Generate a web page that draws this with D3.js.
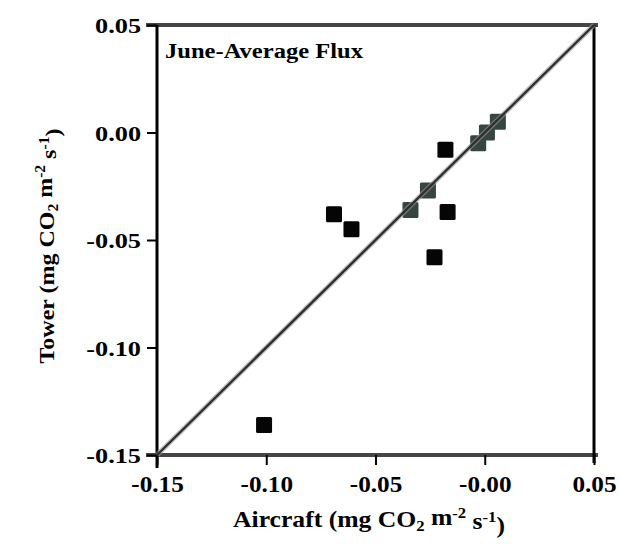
<!DOCTYPE html>
<html>
<head>
<meta charset="utf-8">
<script src="https://cdn.jsdelivr.net/npm/d3@7"></script>
<style>
  html, body { margin: 0; padding: 0; background: #ffffff; }
  svg { display: block; }
</style>
</head>
<body>
<svg id="chart" width="619" height="544"></svg>
<script>
// ---- data ----
const xTicks = [-0.15, -0.10, -0.05, 0.00, 0.05];
const xTickLabels = ["-0.15", "-0.10", "-0.05", "-0.00", "0.05"];
const yTicks = [-0.15, -0.10, -0.05, 0.00, 0.05];
const yTickLabels = ["-0.15", "-0.10", "-0.05", "0.00", "0.05"];

// points lying on the 1:1 line (drawn dark grey-green)
const aircraftOnLine = [0.006, 0.001, -0.003, -0.026, -0.034];
const towerOnLine    = [0.005, 0.000, -0.005, -0.027, -0.036];
// points off the line (drawn black)
const aircraftOff = [-0.069, -0.061, -0.017, -0.023, -0.018, -0.101];
const towerOff    = [-0.038, -0.045, -0.037, -0.058, -0.008, -0.136];

const oneToOne = [-0.15, 0.05];
const panelTitle = "June-Average Flux";

// ---- layout ----
const svg = d3.select("#chart");
const x = d3.scaleLinear().domain([-0.15, 0.05]).range([157, 594]);
const y = d3.scaleLinear().domain([-0.15, 0.05]).range([455, 25]);
const FONT = "'Liberation Serif', 'Times New Roman', serif";

function stretch(sel, factor) {
  sel.each(function () {
    const len = this.getComputedTextLength();
    d3.select(this).attr("textLength", len * factor).attr("lengthAdjust", "spacingAndGlyphs");
  });
}

// frame lines (top & bottom, grey, extending slightly past the axes)
const frameColor = "#454545";
[y.range()[1], y.range()[0]].forEach(yy => {
  svg.append("line")
    .attr("x1", x.range()[0] - 11).attr("x2", x.range()[1] + 4)
    .attr("y1", yy).attr("y2", yy)
    .attr("stroke", frameColor).attr("stroke-width", 4);
});
// right border (black)
svg.append("line")
  .attr("x1", x.range()[1]).attr("x2", x.range()[1])
  .attr("y1", y.range()[1]).attr("y2", y.range()[0] + 8)
  .attr("stroke", "#000").attr("stroke-width", 3);

// y axis
const yAxis = svg.append("g")
  .attr("transform", `translate(${x.range()[0]},0)`)
  .call(d3.axisLeft(y).tickValues(yTicks).tickFormat((d, i) => yTickLabels[i])
        .tickSize(10).tickSizeOuter(0).tickPadding(6));
yAxis.select(".domain").attr("stroke", "#000").attr("stroke-width", 3)
  .attr("d", `M0,${y.range()[1]}V${y.range()[0] + 13}`);
yAxis.selectAll(".tick line").attr("stroke", "#000").attr("stroke-width", 2);
yAxis.selectAll(".tick text")
  .attr("font-family", FONT).attr("font-size", 21).attr("font-weight", "bold")
  .attr("fill", "#000").attr("dy", "0.36em");
stretch(yAxis.selectAll(".tick text"), 1.25);

// x axis
const xAxis = svg.append("g")
  .attr("transform", `translate(0,${y.range()[0]})`)
  .call(d3.axisBottom(x).tickValues(xTicks).tickFormat((d, i) => xTickLabels[i])
        .tickSize(10).tickSizeOuter(0).tickPadding(10));
xAxis.select(".domain").remove();
xAxis.selectAll(".tick line").attr("stroke", "#000").attr("stroke-width", 2);
xAxis.selectAll(".tick text")
  .attr("font-family", FONT).attr("font-size", 24).attr("font-weight", "bold")
  .attr("fill", "#000");
stretch(xAxis.selectAll(".tick text"), 1.05);

// points
const sq = 16;
const onData = aircraftOnLine.map((a, i) => ({ a, t: towerOnLine[i] }));
const offData = aircraftOff.map((a, i) => ({ a, t: towerOff[i] }));

svg.append("g").selectAll("rect").data(offData).join("rect")
  .attr("x", d => x(d.a) - sq / 2).attr("y", d => y(d.t) - sq / 2)
  .attr("width", sq).attr("height", sq).attr("rx", 1.5)
  .attr("fill", "#050505");

svg.append("g").selectAll("rect").data(onData).join("rect")
  .attr("x", d => x(d.a) - sq / 2).attr("y", d => y(d.t) - sq / 2)
  .attr("width", sq).attr("height", sq).attr("rx", 1.5)
  .attr("fill", "#34463f");

// 1:1 line
const line = d3.line().x(d => x(d)).y(d => y(d));
svg.append("path").datum(oneToOne).attr("d", line)
  .attr("fill", "none").attr("stroke", "#9a9a9a").attr("stroke-width", 5).attr("stroke-opacity", 0.6);
svg.append("path").datum(oneToOne).attr("d", line)
  .attr("fill", "none").attr("stroke", "#2e2e2e").attr("stroke-width", 2.4);

// panel title
svg.append("text")
  .attr("x", 165).attr("y", 58)
  .attr("font-family", FONT).attr("font-size", 20).attr("font-weight", "bold")
  .attr("textLength", 198).attr("lengthAdjust", "spacingAndGlyphs")
  .text(panelTitle);

// axis titles
function unitLabel(sel, name) {
  sel.append("tspan").text(name + " (mg CO");
  sel.append("tspan").attr("font-size", "0.65em").attr("dy", "0.25em").text("2");
  sel.append("tspan").attr("dy", "-0.25em").text(" m");
  sel.append("tspan").attr("font-size", "0.65em").attr("dy", "-0.5em").text("-2");
  sel.append("tspan").attr("dy", "0.5em").text(" s");
  sel.append("tspan").attr("font-size", "0.65em").attr("dy", "-0.5em").text("-1");
  sel.append("tspan").attr("dy", "0.5em").text(")");
}
function fitWidth(sel, target, tx, ty, rot) {
  const len = sel.node().getComputedTextLength();
  const s = target / len;
  sel.attr("transform", `translate(${tx},${ty}) rotate(${rot}) scale(${s},1)`);
}

const xt = svg.append("text")
  .attr("x", 0).attr("y", 0).attr("text-anchor", "middle")
  .attr("font-family", FONT).attr("font-size", 23).attr("font-weight", "bold");
unitLabel(xt, "Aircraft");
fitWidth(xt, 272, 369, 527, 0);

const yt = svg.append("text")
  .attr("x", 0).attr("y", 0).attr("text-anchor", "middle")
  .attr("font-family", FONT).attr("font-size", 22).attr("font-weight", "bold");
unitLabel(yt, "Tower");
fitWidth(yt, 235, 54, 246, -90);
</script>
</body>
</html>
